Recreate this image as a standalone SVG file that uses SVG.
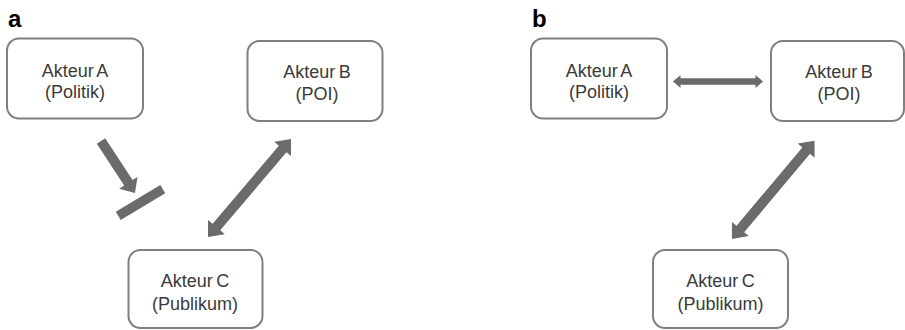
<svg xmlns="http://www.w3.org/2000/svg" width="905" height="330" viewBox="0 0 905 330">
<style>
.box{fill:#fff;stroke:#7f7f7f;stroke-width:2}
.t{font-family:"Liberation Sans",Arial,sans-serif;font-size:18px;fill:#3a3a3a;text-anchor:middle;word-spacing:-1.5px}
.lbl{font-family:"Liberation Sans",Arial,sans-serif;font-size:24px;font-weight:bold;fill:#000}
.arr{fill:#6b6b6b}
</style>
<defs>
<polygon id="dbl" points="0,0 13,-11 13,-5 115.4,-5 115.4,-11 128.4,0 115.4,11 115.4,5 13,5 13,11"/>
</defs>
<text class="lbl" x="8" y="26.5">a</text>
<text class="lbl" x="532" y="26.5">b</text>
<g id="a-akteurA">
<rect class="box" x="7" y="38.5" width="136" height="80" rx="12"/>
<text class="t" x="75" y="76.5">Akteur A</text>
<text class="t" x="75" y="98">(Politik)</text>
</g>
<g id="a-akteurB">
<rect class="box" x="247.5" y="41" width="135" height="80" rx="12"/>
<text class="t" x="317" y="78">Akteur B</text>
<text class="t" x="317" y="100">(POI)</text>
</g>
<g id="a-akteurC">
<rect class="box" x="128.5" y="250" width="134" height="78" rx="12"/>
<text class="t" x="195" y="287">Akteur C</text>
<text class="t" x="195" y="310">(Publikum)</text>
</g>
<g id="b-akteurA">
<rect class="box" x="531" y="38.5" width="136" height="80" rx="12"/>
<text class="t" x="599" y="76.5">Akteur A</text>
<text class="t" x="599" y="98">(Politik)</text>
</g>
<g id="b-akteurB">
<rect class="box" x="771" y="41" width="133" height="80" rx="12"/>
<text class="t" x="839" y="78">Akteur B</text>
<text class="t" x="839" y="100">(POI)</text>
</g>
<g id="b-akteurC">
<rect class="box" x="653" y="250" width="135" height="78" rx="12"/>
<text class="t" x="720.5" y="287">Akteur C</text>
<text class="t" x="720.5" y="310">(Publikum)</text>
</g>
<g id="connectors" class="arr">
<polygon transform="translate(101,141) rotate(56.8)" points="0,-5 50,-5 50,-11 62,0 50,11 50,5 0,5"/>
<rect transform="translate(140.5,202.5) rotate(-31)" x="-26" y="-4.8" width="52" height="9.6"/>
<use href="#dbl" transform="translate(208,237) rotate(-49.7)"/>
<use href="#dbl" transform="translate(732,239) rotate(-50)"/>
<polygon points="673,81.5 680.5,75 680.5,78.3 755.5,78.3 755.5,75 763,81.5 755.5,88 755.5,84.7 680.5,84.7 680.5,88"/>
</g>
</svg>
